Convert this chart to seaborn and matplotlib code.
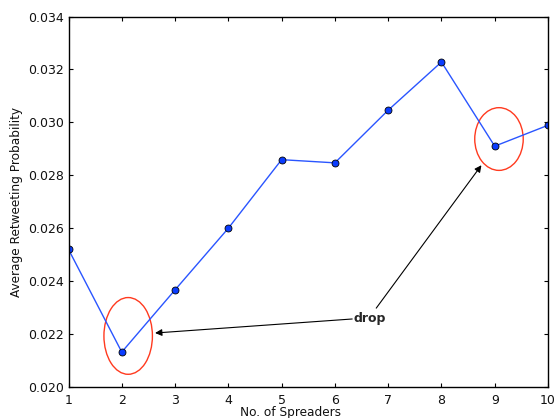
import seaborn as sns
import matplotlib.pyplot as plt
from matplotlib.patches import Ellipse

# данные
spreaders = [1, 2, 3, 4, 5, 6, 7, 8, 9, 10]
retweet_prob = [0.0252, 0.02132, 0.02367, 0.0260, 0.02859, 0.02847, 0.03046, 0.03228, 0.0291, 0.02989]
yticks = [0.020, 0.022, 0.024, 0.026, 0.028, 0.030, 0.032, 0.034]

sns.set_style("ticks")
plt.rcParams["font.family"] = ["DejaVu Sans"]

fig = plt.figure(figsize=(5.54, 4.18), dpi=100)
ax = fig.add_axes([68.5 / 554, 31 / 418, 479.5 / 554, 370.5 / 418])

sns.lineplot(x=spreaders, y=retweet_prob, ax=ax, color="#2a55ff", lw=1,
             marker="o", markersize=5, markerfacecolor="#0a3cff",
             markeredgecolor="black", markeredgewidth=0.6)

ax.set_xlim(1, 10)
ax.set_ylim(0.020, 0.034)
ax.set_xticks(spreaders)
ax.set_yticks(yticks)
ax.set_yticklabels([f"{t:.3f}" for t in yticks])
ax.tick_params(direction="in", top=True, right=True, length=3, width=0.8,
               labelsize=9, color="black", labelcolor="#111111")
ax.tick_params(axis="x", pad=5)
ax.tick_params(axis="y", pad=3)
for s in ax.spines.values():
    s.set_linewidth(1)
    s.set_color("black")

ax.set_xlabel("No. of Spreaders", fontsize=8.7, color="#111111")
ax.set_ylabel("Average Retweeting Probability", fontsize=8.7, color="#111111")
ax.xaxis.set_label_coords(0.464, -0.051)
ax.yaxis.set_label_coords(-0.094, 0.5)

# красные овалы вокруг провалов
ax.add_patch(Ellipse((2.12, 0.02193), 0.91, 0.0029, fill=False, color="#ff3a1f", lw=1))
ax.add_patch(Ellipse((9.08, 0.02937), 0.91, 0.00237, fill=False, color="#ff3a1f", lw=1))

ax.text(6.647, 0.02257, "drop", fontsize=9, fontweight="bold", ha="center", va="center")
arrow = dict(arrowstyle="-|>", color="black", lw=0.8, mutation_scale=10, shrinkA=0, shrinkB=0)
ax.annotate("", xy=(2.625, 0.02204), xytext=(6.325, 0.02257), arrowprops=arrow)
ax.annotate("", xy=(8.75, 0.02838), xytext=(6.776, 0.02298), arrowprops=arrow)

fig.savefig("out.png", dpi=100)
